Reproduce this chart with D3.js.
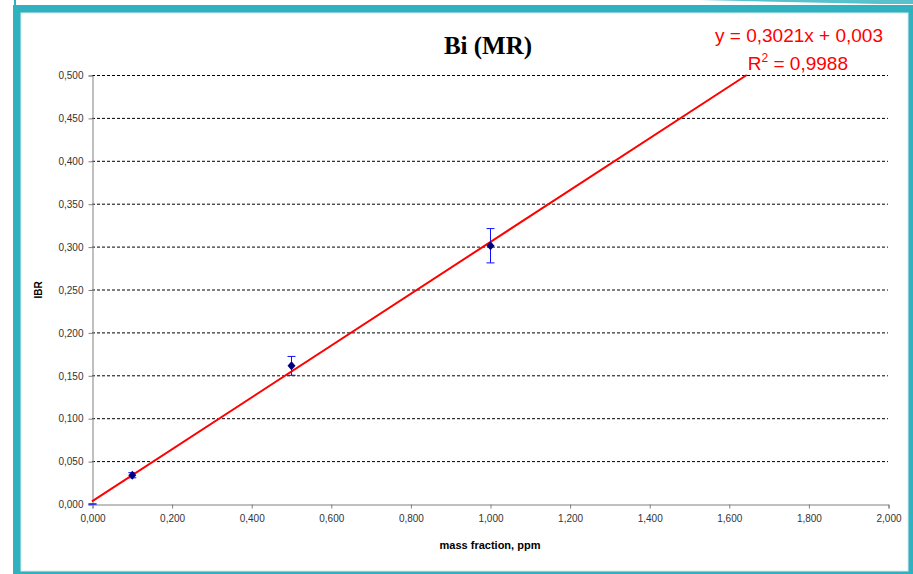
<!DOCTYPE html>
<html>
<head>
<meta charset="utf-8">
<script src="https://cdn.jsdelivr.net/npm/d3@7"></script>
<style>
  body { margin: 0; background: #fff; }
  svg { display: block; }
</style>
</head>
<body>
<script>
// measured points (mass fraction, ppm -> IBR) with error bar half-width
var massFraction = [0.000, 0.100, 0.500, 1.000];
var ibrValues    = [0.000, 0.0335, 0.161, 0.301];
var ibrErrors    = [0.000, 0.003, 0.011, 0.020];

// fitted line y = slope*x + intercept
var slope = 0.3021;
var intercept = 0.003;

var xTicks = [0, 0.2, 0.4, 0.6, 0.8, 1.0, 1.2, 1.4, 1.6, 1.8, 2.0];
var yTicks = [0, 0.05, 0.10, 0.15, 0.20, 0.25, 0.30, 0.35, 0.40, 0.45, 0.50];

var width = 913, height = 574;
var teal = "#2fb1bf";

var svg = d3.select("body").append("svg")
  .attr("width", width)
  .attr("height", height);

// slide frame
svg.append("rect").attr("x", 0).attr("y", 0).attr("width", width).attr("height", height).attr("fill", "#fff");
svg.append("path")
  .attr("d", "M700,0 L880,4 L913,4 L913,0 Z")
  .attr("fill", teal).attr("opacity", 0.8);
svg.append("rect").attr("x", 14).attr("y", 0).attr("width", 2).attr("height", 6).attr("fill", teal);
svg.append("rect").attr("x", 13).attr("y", 5).attr("width", 900).attr("height", 8).attr("fill", teal);
svg.append("rect").attr("x", 13).attr("y", 5).attr("width", 8).attr("height", 569).attr("fill", teal);
svg.append("rect").attr("x", 908).attr("y", 5).attr("width", 5).attr("height", 569).attr("fill", teal);
svg.append("rect").attr("x", 13).attr("y", 571).attr("width", 900).attr("height", 3).attr("fill", teal);
svg.append("rect").attr("x", 21).attr("y", 13).attr("width", 887).attr("height", 558)
  .attr("fill", "#fff").attr("stroke", "#d8ecef").attr("stroke-width", 1);

var margin = {left: 92, right: 25, top: 75, bottom: 70};

var x = d3.scaleLinear().domain([0, 2]).range([margin.left, 888]);
var y = d3.scaleLinear().domain([0, 0.5]).range([504, margin.top]);

var fmt = function(d) { return d3.format(".3f")(d).replace(".", ","); };

// horizontal grid
svg.append("g")
  .selectAll("line")
  .data(yTicks.filter(function(d) { return d > 0; }))
  .enter().append("line")
  .attr("x1", x(0)).attr("x2", x(2))
  .attr("y1", function(d) { return y(d) + 0.5; })
  .attr("y2", function(d) { return y(d) + 0.5; })
  .attr("stroke", "#000")
  .attr("stroke-width", 1)
  .attr("stroke-dasharray", "3,2");

// y axis
var yAxis = svg.append("g")
  .attr("transform", "translate(" + (x(0) + 0.5) + ",0.5)")
  .call(d3.axisLeft(y).tickValues(yTicks).tickFormat(fmt).tickSize(4).tickPadding(5));
yAxis.select(".domain").attr("stroke", "#808080");
yAxis.selectAll(".tick line").attr("stroke", "#808080");
yAxis.selectAll("text")
  .attr("fill", "#333")
  .style("font-family", "'Liberation Sans', Arial, sans-serif")
  .style("font-size", "10px");

// x axis
var xAxis = svg.append("g")
  .attr("transform", "translate(0.5," + (y(0) + 0.5) + ")")
  .call(d3.axisBottom(x).tickValues(xTicks).tickFormat(fmt).tickSize(4).tickPadding(6));
xAxis.select(".domain").attr("stroke", "#808080");
xAxis.selectAll(".tick line").attr("stroke", "#808080");
xAxis.selectAll("text")
  .attr("fill", "#333")
  .style("font-family", "'Liberation Sans', Arial, sans-serif")
  .style("font-size", "10px");

// error bars
var points = massFraction.map(function(d, i) {
  return {x: d, y: ibrValues[i], e: ibrErrors[i]};
});
var eb = svg.append("g").attr("stroke", "#1010ff").attr("stroke-width", 1);
points.forEach(function(p) {
  var cx = x(p.x) + 0.5;
  eb.append("line").attr("x1", cx).attr("x2", cx).attr("y1", y(p.y - p.e)).attr("y2", y(p.y + p.e));
  eb.append("line").attr("x1", cx - 4).attr("x2", cx + 4).attr("y1", y(p.y + p.e)).attr("y2", y(p.y + p.e));
  eb.append("line").attr("x1", cx - 4).attr("x2", cx + 4).attr("y1", y(p.y - p.e)).attr("y2", y(p.y - p.e));
});

// trend line, clipped at top of the plot
var xEnd = (0.5 - intercept) / slope;
svg.append("line")
  .attr("x1", x(0)).attr("y1", y(intercept))
  .attr("x2", x(xEnd)).attr("y2", y(0.5))
  .attr("stroke", "#ff0000")
  .attr("stroke-width", 2);

// markers
svg.append("g")
  .selectAll("path")
  .data(points.filter(function(p) { return p.x > 0; }))
  .enter().append("path")
  .attr("transform", function(d) { return "translate(" + (x(d.x) + 0.5) + "," + y(d.y) + ")"; })
  .attr("d", "M0,-4.5 L4,0 L0,4.5 L-4,0 Z")
  .attr("fill", "#000080");

// title
svg.append("text")
  .attr("x", 488).attr("y", 54)
  .attr("text-anchor", "middle")
  .style("font-family", "'Liberation Serif', 'Times New Roman', serif")
  .style("font-weight", "bold")
  .style("font-size", "25px")
  .text("Bi (MR)");

// equation
var eq = svg.append("g")
  .attr("fill", "#ff0000")
  .style("font-family", "'Liberation Sans', Arial, sans-serif")
  .style("font-size", "19px");
eq.append("text")
  .attr("x", 883).attr("y", 42)
  .attr("text-anchor", "end")
  .text("y = " + String(slope).replace(".", ",") + "x + " + String(intercept).replace(".", ","));
var r2 = eq.append("text").attr("x", 848).attr("y", 70).attr("text-anchor", "end");
r2.append("tspan").text("R");
r2.append("tspan").attr("dy", -8).style("font-size", "12px").text("2");
r2.append("tspan").attr("dy", 8).text(" = 0,9988");

// axis titles
svg.append("text")
  .attr("x", 490).attr("y", 549)
  .attr("text-anchor", "middle")
  .style("font-family", "'Liberation Sans', Arial, sans-serif")
  .style("font-weight", "bold")
  .style("font-size", "11px")
  .text("mass fraction, ppm");

svg.append("text")
  .attr("transform", "translate(42,290) rotate(-90)")
  .attr("text-anchor", "middle")
  .style("font-family", "'Liberation Sans', Arial, sans-serif")
  .style("font-weight", "bold")
  .style("font-size", "10px")
  .text("IBR");
</script>
</body>
</html>
